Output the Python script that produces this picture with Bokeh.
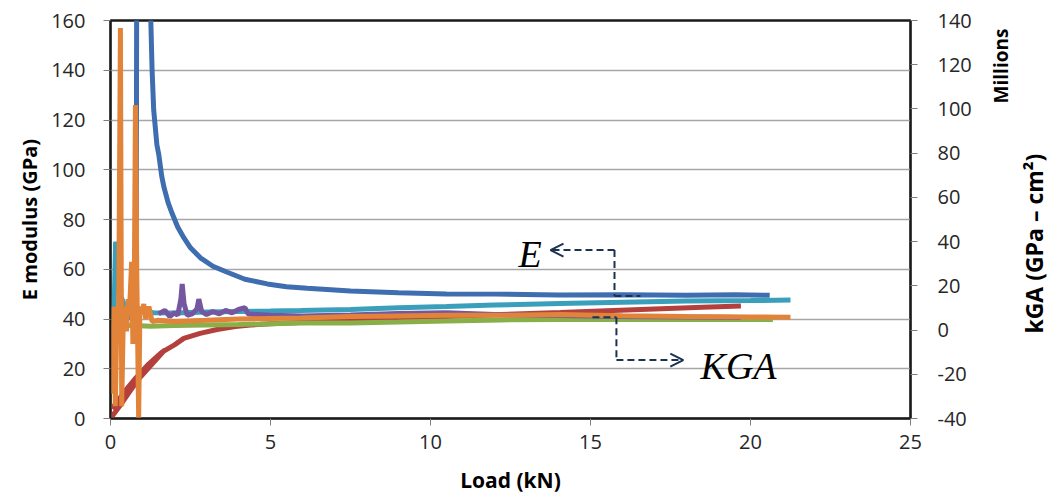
import math
from bokeh.plotting import figure
from bokeh.models import (Range1d, LinearAxis, SingleIntervalTicker, FixedTicker, Label, Arrow,
                          OpenHead, PrintfTickFormatter)
from bokeh.embed import file_html
from bokeh.resources import INLINE

# ---------------- data ----------------
# E modulus series (left axis, GPa)
blue_x = [0.55, 0.7, 0.8, 0.85, 1.2, 1.25, 1.3, 1.35, 1.45, 1.51, 1.6, 1.67, 1.8, 1.93, 2.1, 2.29, 2.5,
          2.81, 3.2, 3.65, 4.2, 4.9, 5.5, 6.15, 7.5, 9.0, 10.5, 12.0, 14.0, 16.0, 18.0, 19.5, 20.6]
blue_y = [40.5, 41.2, 41.0, 400, 400, 165, 140, 124, 110, 106, 97.5, 93, 86.8, 82.3, 77, 72.7, 68.6,
          64.6, 61.2, 58.8, 56.0, 54.1, 53.0, 52.4, 51.3, 50.6, 50.1, 50.0, 49.6, 49.7, 49.5, 49.7, 49.5]

red_x = [0.0, 0.3, 0.6, 0.9, 1.2, 1.5, 1.7, 0.05, 0.4, 0.8, 1.2, 1.6, 2.0, 2.29, 2.8, 3.33, 3.9, 4.38,
         5.0, 5.94, 7.5, 9.0, 10.5, 12.2, 14.06, 15.5, 17.0, 18.5, 19.7]
red_y = [0.0, 5.2, 10.8, 16.2, 21.4, 25.4, 27.6, 4.0, 10.2, 16.4, 22.0, 26.6, 29.6, 32.2, 34.2, 35.8, 37.0,
         37.6, 38.1, 38.6, 39.3, 40.2, 41.0, 41.8, 42.6, 43.3, 44.0, 44.7, 45.2]

teal_x = [0.1, 0.14, 0.16, 0.19, 0.21, 0.26, 0.3, 0.36, 0.42, 0.5, 0.6, 0.8, 1.0, 1.35, 2.0, 3.0, 4.0,
          5.0, 5.94, 7.5, 9.0, 10.5, 12.0, 14.06, 16.0, 18.0, 20.0, 21.25]
teal_y = [37.0, 60.0, 71.0, 69.5, 58.0, 55.0, 50.0, 48.0, 46.0, 44.0, 43.2, 42.6, 43.0, 42.5, 42.4, 42.8, 43.0,
          43.2, 43.4, 43.8, 44.5, 45.0, 45.6, 46.2, 46.7, 47.2, 47.4, 47.6]

# KGA series (right axis, millions GPa-cm^2)
green_x = [0.05, 0.3, 0.6, 1.25, 2.0, 3.0, 4.0, 5.94, 7.5, 9.0, 10.5, 12.2, 14.06, 16.0, 18.0, 20.7]
green_y = [1.1, 1.6, 2.2, 1.7, 2.1, 2.3, 2.5, 3.2, 3.2, 3.6, 4.1, 4.6, 4.8, 4.8, 4.9, 4.8]

purple_x = [1.5, 1.7, 1.85, 2.0, 2.1, 2.2, 2.24, 2.3, 2.4, 2.55, 2.7, 2.76, 2.85, 3.0, 3.2, 3.4, 3.6,
            3.8, 4.0, 4.2, 4.3, 5.0, 6.0, 7.5, 9.0, 10.5, 12.0, 14.0, 16.0, 18.0, 19.7]
purple_y = [7.3, 8.9, 6.1, 7.8, 6.7, 14.0, 20.8, 11.8, 6.7, 7.3, 9.5, 14.0, 8.4, 7.0, 8.4, 7.3, 8.9,
            7.8, 9.3, 10.1, 7.3, 6.7, 6.4, 6.8, 7.5, 7.8, 7.0, 6.6, 6.1, 5.9, 5.7]

orange_x = [0.03, 0.07, 0.11, 0.15, 0.2, 0.25, 0.31, 0.35, 0.4, 0.45, 0.5, 0.55, 0.6, 0.66, 0.7, 0.74,
            0.78, 0.82, 0.88, 0.92, 0.98, 1.04, 1.1, 1.2, 1.3, 1.5, 2.0, 3.0, 4.0, 5.94, 7.5, 9.0,
            10.5, 12.2, 14.06, 16.0, 18.0, 20.0, 21.25]
orange_y = [2.8, -28.8, 10.6, -34.4, 5.0, -6.3, 136.6, -34.4, 5.0, 10.6, -0.6, 14.0, 10.6, 30.9, -6.3, 10.6,
            101.8, 27.5, -40.0, 10.6, 7.3, 11.8, 5.0, 10.6, 3.9, 4.4, 3.9, 4.4, 5.0, 5.5, 6.1, 6.4,
            6.7, 6.7, 7.0, 6.5, 6.1, 5.9, 5.8]

x_ticks_interval = 5
left_ticks_interval = 20
right_ticks_interval = 20
right_unit_text = "Millions"
right_title_text = "kGA (GPa – cm²)"

# ---------------- figure ----------------
FONT = "Open Sans"
p = figure(frame_width=800, frame_height=398,
           x_range=Range1d(0, 25), y_range=Range1d(0, 160),
           output_backend="svg", toolbar_location=None,
           min_border_left=110, min_border_right=140, min_border_top=20, min_border_bottom=75,
           background_fill_color="white", border_fill_color="white")
p.extra_y_ranges = {"kga": Range1d(-40, 140)}

p.outline_line_color = "#1a1a1a"
p.outline_line_width = 2.5
p.xgrid.visible = False
p.ygrid.grid_line_color = "#a6a6a6"
p.ygrid.grid_line_width = 1.5

xa = p.xaxis[0]
ya = p.yaxis[0]
xa.ticker = SingleIntervalTicker(interval=x_ticks_interval)
ya.ticker = SingleIntervalTicker(interval=left_ticks_interval)
p.ygrid.ticker = ya.ticker
xa.axis_label = "Load (kN)"
ya.axis_label = "E modulus (GPa)"

ra = LinearAxis(y_range_name="kga", ticker=SingleIntervalTicker(interval=right_ticks_interval),
                formatter=PrintfTickFormatter(format="%d"))
p.add_layout(ra, "right")

# second right axis: the "Millions" unit note (one rotated tick label)
ra2 = LinearAxis(y_range_name="kga", ticker=FixedTicker(ticks=[102.5]),
                 major_label_overrides={102.5: right_unit_text})
p.add_layout(ra2, "right")

# third right axis: the axis title (one rotated tick label)
ra3 = LinearAxis(y_range_name="kga", ticker=FixedTicker(ticks=[-1.6]),
                 major_label_overrides={-1.6: right_title_text})
p.add_layout(ra3, "right")

for ax in (xa, ya, ra):
    ax.major_label_text_font = FONT
    ax.major_label_text_font_size = "20px"
    ax.major_label_text_color = "#262626"
    ax.minor_tick_line_color = None
    ax.major_tick_in = 0
    ax.major_tick_out = 7
    ax.major_tick_line_color = "#7f7f7f"
    ax.axis_line_color = "#1a1a1a"
    ax.axis_line_width = 1.5

for ax in (xa, ya):
    ax.axis_label_text_font = FONT
    ax.axis_label_text_font_style = "bold"
    ax.axis_label_text_color = "#000000"
xa.axis_label_text_font_size = "21px"
ya.axis_label_text_font_size = "20px"

for ax in (ra2, ra3):
    ax.axis_line_color = None
    ax.major_tick_line_color = None
    ax.minor_tick_line_color = None
    ax.major_tick_in = 0
    ax.major_tick_out = 0
    ax.major_label_text_font = FONT
    ax.major_label_text_font_style = "bold"
    ax.major_label_text_color = "#000000"
    ax.major_label_orientation = math.pi / 2

ra2.major_label_text_font_size = "19px"
ra2.major_label_standoff = 27
ra3.major_label_text_font_size = "23px"
ra3.major_label_standoff = 4

xa.major_label_standoff = 9
xa.axis_label_standoff = 14
ya.major_label_standoff = 18
ya.axis_label_standoff = 5
ra.major_label_standoff = 20

LW = 5
p.line(blue_x, blue_y, line_color="#3e6db0", line_width=LW)
p.line(red_x, red_y, line_color="#b3403c", line_width=LW)
p.line(teal_x, teal_y, line_color="#3a9fbb", line_width=LW)
p.line(green_x, green_y, line_color="#8aae48", line_width=LW, y_range_name="kga")
p.line(purple_x, purple_y, line_color="#7556a0", line_width=LW, y_range_name="kga")
p.line(orange_x, orange_y, line_color="#e2833a", line_width=LW, y_range_name="kga")

# annotations
NAVY = "#1b3350"
p.add_layout(Label(x=12.75, y=66.0, text="E", text_font="Liberation Serif", text_font_style="italic",
                   text_font_size="38px", text_baseline="alphabetic", text_color="#000000"))
p.add_layout(Label(x=18.44, y=21.2, text="KGA", text_font="Liberation Serif", text_font_style="italic",
                   text_font_size="38px", text_baseline="alphabetic", text_color="#000000"))

dash = "7 4"
p.add_layout(Arrow(x_start=15.75, y_start=67.7, x_end=13.75, y_end=67.7, line_color=NAVY, line_width=2,
                   line_dash=dash, end=OpenHead(size=13, line_color=NAVY, line_width=2)))
p.add_layout(Arrow(x_start=15.75, y_start=67.7, x_end=15.75, y_end=49.2, line_color=NAVY, line_width=2,
                   line_dash=dash, end=None))
p.add_layout(Arrow(x_start=15.75, y_start=49.2, x_end=16.56, y_end=49.2, line_color=NAVY, line_width=2,
                   line_dash=dash, end=None))
p.add_layout(Arrow(x_start=15.06, y_start=40.7, x_end=15.81, y_end=40.7, line_color=NAVY, line_width=2,
                   line_dash=dash, end=None))
p.add_layout(Arrow(x_start=15.81, y_start=40.7, x_end=15.81, y_end=23.5, line_color=NAVY, line_width=2,
                   line_dash=dash, end=None))
p.add_layout(Arrow(x_start=15.81, y_start=23.5, x_end=17.9, y_end=23.5, line_color=NAVY, line_width=2,
                   line_dash=dash, end=OpenHead(size=13, line_color=NAVY, line_width=2)))

open("out.html", "w").write(file_html(p, INLINE))
